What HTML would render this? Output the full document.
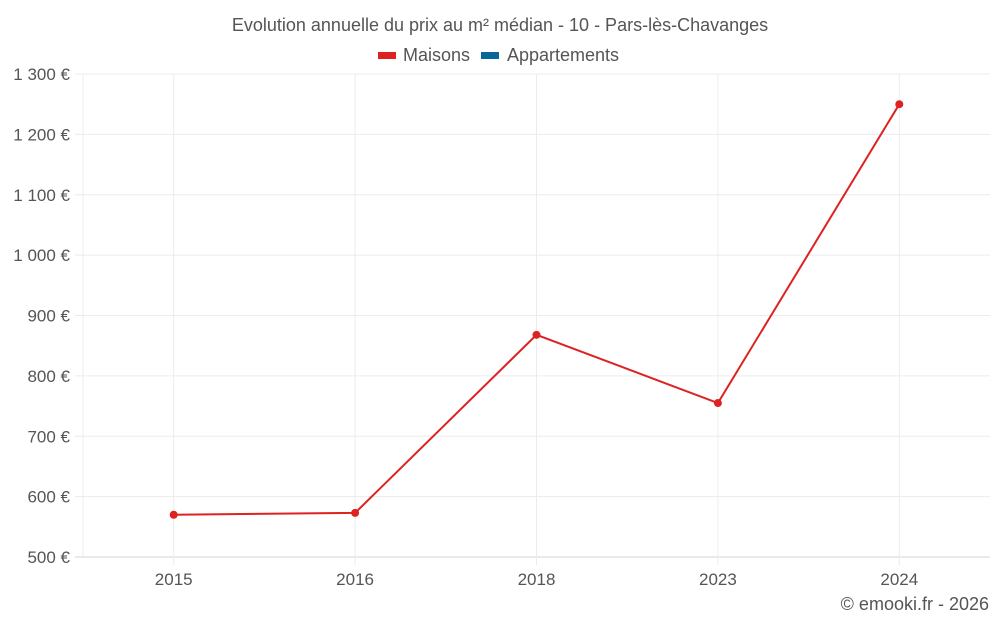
<!DOCTYPE html>
<html><head><meta charset="utf-8"><style>
body{margin:0;background:#fff;font-family:"Liberation Sans",sans-serif;}
svg text{font-family:"Liberation Sans",sans-serif;fill:#555;}
</style></head><body>
<svg width="1000" height="625">
<text x="500" y="31" text-anchor="middle" font-size="18">Evolution annuelle du prix au m² médian - 10 - Pars-lès-Chavanges</text>
<g>
<g><rect x="378" y="52" width="18" height="7" fill="#dd2222"/><text x="403" y="61" font-size="18">Maisons</text></g>
<g><rect x="481" y="52" width="18" height="7" fill="#0a6599"/><text x="507" y="61" font-size="18">Appartements</text></g>
</g>
<g id="grid"></g>
<g id="yaxis"></g>
<g id="xaxis"></g>
<g id="series"></g>
<text x="989" y="610" text-anchor="end" font-size="18">© emooki.fr - 2026</text>
</svg>
<script>
const categories=["2015","2016","2018","2023","2024"];
const maisons=[570,573,868,755,1250];
const yTicks=[500,600,700,800,900,1000,1100,1200,1300];
const yLabels=["500 €","600 €","700 €","800 €","900 €","1 000 €","1 100 €","1 200 €","1 300 €"];
const L=83,R=990,T=74,B=557,ymin=500,ymax=1300;
const NS="http://www.w3.org/2000/svg";
const y=v=>B-(v-ymin)/(ymax-ymin)*(B-T);
const bw=(R-L)/categories.length;
const x=i=>L+bw*(i+0.5);
function mk(t,a,p){const e=document.createElementNS(NS,t);for(const k in a)e.setAttribute(k,a[k]);p.appendChild(e);return e;}
const grid=document.getElementById('grid'),ya=document.getElementById('yaxis'),xa=document.getElementById('xaxis'),s=document.getElementById('series');
const lv=mk('line',{x1:L,x2:L,y1:T,y2:B,stroke:'#ececec'},grid);


yTicks.forEach((v,i)=>{
 const l=mk('line',{x1:L-8,x2:R,y1:y(v),y2:y(v),stroke:v===ymin?'#d6d6d6':'#ececec'},grid);
 
 
 const t=mk('text',{x:70,y:y(v)+6,'text-anchor':'end','font-size':17},ya);t.textContent=yLabels[i];
 
 
});
categories.forEach((c,i)=>{
 const l=mk('line',{x1:x(i),x2:x(i),y1:T,y2:B+8,stroke:'#ececec'},grid);
 
 
 const t=mk('text',{x:x(i),y:585,'text-anchor':'middle','font-size':17},xa);t.textContent=c;
 
 
});
const p=mk('polyline',{points:maisons.map((v,i)=>x(i)+','+y(v)).join(' '),fill:'none',stroke:'#dd2222','stroke-width':2},s);


maisons.forEach((v,i)=>{
 const c=mk('circle',{cx:x(i),cy:y(v),r:4,fill:'#dd2222'},s);
 
 
});
</script>
</body></html>
